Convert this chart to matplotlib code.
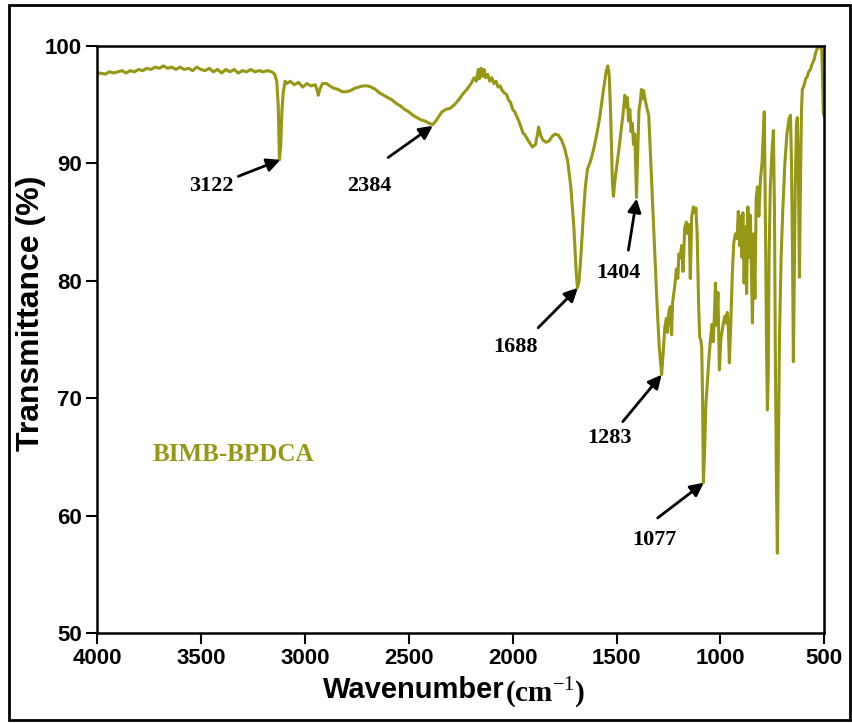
import matplotlib
matplotlib.use("Agg")
import matplotlib.pyplot as plt
from matplotlib.patches import Rectangle

plt.rcParams['mathtext.fontset'] = 'custom'
plt.rcParams['mathtext.rm'] = 'Liberation Serif'
plt.rcParams['mathtext.bf'] = 'Liberation Serif:bold'

# spectrum (wavenumber cm-1, transmittance %)
wavenumber = [4000, 3985, 3960, 3940, 3920, 3900, 3880, 3860, 3840, 3820, 3800, 3780, 3760, 3740, 3720,
              3700, 3680, 3660, 3640, 3620, 3600, 3580, 3560, 3540, 3520, 3500, 3480, 3460, 3440, 3420,
              3400, 3380, 3360, 3340, 3320, 3300, 3280, 3260, 3240, 3220, 3200, 3180, 3160, 3145, 3135,
              3128, 3122, 3116, 3110, 3104, 3095, 3085, 3070, 3050, 3030, 3010, 2990, 2970, 2950, 2940,
              2935, 2928, 2915, 2895, 2880, 2860, 2840, 2820, 2800, 2780, 2760, 2740, 2720, 2700, 2680,
              2660, 2640, 2620, 2600, 2580, 2560, 2540, 2520, 2500, 2480, 2460, 2440, 2420, 2400, 2384,
              2370, 2355, 2340, 2320, 2300, 2280, 2260, 2240, 2220, 2200, 2185, 2175, 2165, 2160, 2152,
              2145, 2138, 2130, 2120, 2110, 2100, 2090, 2080, 2070, 2060, 2050, 2040, 2030, 2020, 2010,
              2000, 1990, 1980, 1970, 1960, 1950, 1940, 1930, 1920, 1905, 1890, 1880, 1875, 1865, 1855,
              1840, 1825, 1810, 1795, 1780, 1765, 1750, 1735, 1720, 1705, 1695, 1688, 1680, 1670, 1660,
              1650, 1640, 1625, 1610, 1595, 1580, 1565, 1550, 1542, 1535, 1528, 1520, 1515, 1508, 1500,
              1490, 1480, 1470, 1460, 1455, 1448, 1442, 1436, 1430, 1424, 1418, 1412, 1404, 1398, 1392,
              1386, 1380, 1375, 1370, 1362, 1355, 1345, 1335, 1325, 1315, 1305, 1295, 1283, 1275, 1268,
              1260, 1255, 1248, 1241, 1235, 1230, 1220, 1212, 1205, 1200, 1193, 1187, 1180, 1172, 1164,
              1157, 1150, 1145, 1138, 1130, 1124, 1118, 1112, 1105, 1100, 1095, 1090, 1086, 1082, 1076,
              1070, 1063, 1055, 1048, 1040, 1035, 1030, 1024, 1018, 1012, 1005, 998, 991, 985, 978,
              972, 967, 962, 957, 950, 943, 936, 928, 920, 914, 908, 903, 897, 892, 886,
              880, 874, 868, 862, 856, 850, 846, 840, 834, 828, 822, 815, 808, 800, 794,
              789, 784, 778, 774, 770, 766, 760, 752, 745, 740, 735, 730, 726, 722, 716,
              708, 700, 690, 680, 670, 663, 658, 653, 649, 645, 640, 634, 630, 625, 620,
              615, 610, 606, 598, 590, 582, 575, 567, 558, 550, 542, 534, 526, 519, 512,
              505, 500]
transmittance = [97.6, 97.7, 97.6, 97.8, 97.7, 97.8, 97.9, 97.7, 97.9, 97.8, 98.0, 97.9, 98.1, 98.0, 98.2,
                 98.1, 98.3, 98.1, 98.2, 98.0, 98.2, 98.0, 98.1, 97.9, 98.2, 98.0, 97.9, 98.1, 97.8, 98.0,
                 97.7, 98.0, 97.8, 98.0, 97.7, 97.9, 97.8, 98.0, 97.8, 97.9, 97.8, 97.9, 97.8, 97.6, 97.0,
                 95.0, 90.3, 91.5, 94.5, 96.0, 97.0, 96.8, 97.0, 96.7, 96.9, 96.5, 96.8, 96.6, 96.7, 96.2,
                 95.8, 96.3, 96.8, 96.8, 96.6, 96.4, 96.3, 96.1, 96.1, 96.2, 96.4, 96.5, 96.6, 96.6, 96.5,
                 96.3, 96.0, 95.8, 95.6, 95.4, 95.1, 94.9, 94.6, 94.4, 94.1, 93.9, 93.7, 93.6, 93.4, 93.3,
                 93.6, 94.0, 94.4, 94.6, 94.7, 95.0, 95.4, 95.9, 96.3, 96.8, 97.3, 97.0, 98.0, 97.2, 98.1,
                 97.4, 98.0, 97.3, 97.6, 97.0, 97.3, 96.8, 97.0, 96.5, 96.6, 96.2, 96.0, 95.9, 95.4, 95.2,
                 94.6, 94.4, 94.0, 93.6, 93.1, 92.6, 92.4, 92.1, 91.8, 91.4, 91.6, 92.5, 93.1, 92.4, 92.0,
                 91.8, 91.9, 92.3, 92.5, 92.4, 92.0, 91.3, 90.2, 88.0, 84.5, 81.0, 79.4, 80.0, 82.5, 85.5,
                 88.0, 89.5, 90.2, 91.2, 92.5, 94.0, 96.0, 97.8, 98.3, 97.5, 94.0, 88.5, 87.2, 88.5, 89.6,
                 91.0, 92.5, 94.0, 95.8, 94.8, 95.6, 93.6, 94.6, 92.7, 93.4, 91.6, 92.5, 87.1, 91.0, 94.5,
                 95.2, 96.3, 95.5, 96.2, 95.4, 94.8, 94.1, 90.0, 86.0, 82.0, 78.0, 74.5, 72.0, 74.0, 76.0,
                 76.8, 75.6, 77.4, 77.8, 75.4, 78.2, 79.5, 81.0, 80.2, 82.3, 82.0, 83.0, 80.8, 84.5, 85.0,
                 84.0, 84.8, 80.2, 85.5, 86.3, 85.8, 86.2, 84.0, 78.0, 75.2, 75.0, 74.3, 70.0, 62.8, 65.5,
                 69.5, 71.3, 73.5, 75.0, 76.3, 74.8, 76.5, 79.8, 76.2, 79.0, 72.4, 75.0, 75.8, 76.5, 77.0,
                 76.4, 77.3, 76.0, 73.0, 76.5, 80.5, 83.2, 84.0, 83.6, 85.9, 83.0, 85.5, 82.0, 85.8, 79.8,
                 84.6, 78.9, 86.3, 82.0, 85.6, 80.0, 76.4, 84.0, 78.5, 87.0, 88.0, 85.5, 88.5, 90.0, 92.5,
                 94.4, 86.0, 74.0, 69.0, 72.0, 82.0, 88.0, 91.0, 92.8, 86.0, 72.0, 62.0, 56.8, 64.0, 75.0,
                 82.0, 86.0, 90.0, 92.5, 93.8, 94.1, 90.0, 82.0, 73.1, 80.0, 88.0, 93.4, 93.9, 90.0, 80.3,
                 88.0, 94.5, 96.3, 96.6, 97.2, 97.4, 97.8, 98.0, 98.5, 98.8, 99.4, 99.8, 100.0, 99.9, 99.6,
                 94.3, 94.0]

# peak labels: text, text position, arrow tail, arrow head
peak_labels = ['3122', '2384', '1688', '1404', '1283', '1077']
label_xy = [(3451, 88.1), (2690, 88.1), (1988, 74.4), (1490, 80.7), (1535, 66.6), (1318, 57.9)]
arrow_from = [(3320, 88.9), (2599, 90.5), (1877, 76.0), (1443, 82.6), (1470, 68.0), (1302, 59.8)]
arrow_to = [(3118, 90.3), (2384, 93.2), (1686, 79.4), (1403, 87.0), (1283, 72.0), (1080, 62.8)]

olive = '#979716'

fig = plt.figure(figsize=(8.53, 7.23), dpi=100)
ax = fig.add_axes([0.1137, 0.1245, 0.8527, 0.8119])

ax.plot(wavenumber, transmittance, color=olive, lw=2.2)

for lab, txy, a0, a1 in zip(peak_labels, label_xy, arrow_from, arrow_to):
    ax.text(txy[0], txy[1], lab, ha='center', va='center', fontsize=16,
            fontweight='bold', family='Liberation Serif')
    ax.annotate('', xy=a1, xytext=a0,
                arrowprops=dict(arrowstyle='-|>', color='black', lw=2, mutation_scale=20,
                                shrinkA=0, shrinkB=0))

ax.text(3730, 65.2, 'BIMB-BPDCA', color=olive, fontsize=18, fontweight='bold',
        family='Liberation Serif', ha='left', va='center')

ax.set_xlim(4000, 500)
ax.set_ylim(50, 100)
ax.set_xticks([4000, 3500, 3000, 2500, 2000, 1500, 1000, 500])
ax.set_yticks([50, 60, 70, 80, 90, 100])
ax.tick_params(direction='out', length=8, width=1.5, labelsize=16, pad=3)
for t in ax.get_xticklabels() + ax.get_yticklabels():
    t.set_fontweight('bold')
    t.set_family('Liberation Sans')
for s in ax.spines.values():
    s.set_linewidth(1.8)

fig.text(0.036, 0.567, 'Transmittance (%)', rotation=90, ha='center', va='center',
         fontsize=23, fontweight='bold', family='Liberation Sans')
fig.text(0.592, 0.045, 'Wavenumber', ha='right', va='center', fontsize=21,
         fontweight='bold', family='Liberation Sans')
fig.text(0.592, 0.043, r'(cm$^{\mathrm{-1}}$)', ha='left', va='center', fontsize=21,
         fontweight='bold', family='Liberation Serif')

fig.patches.append(Rectangle((0.0105, 0.004), 0.986, 0.989, transform=fig.transFigure,
                             fill=False, edgecolor='black', lw=2))

fig.savefig('out.png', dpi=100)
